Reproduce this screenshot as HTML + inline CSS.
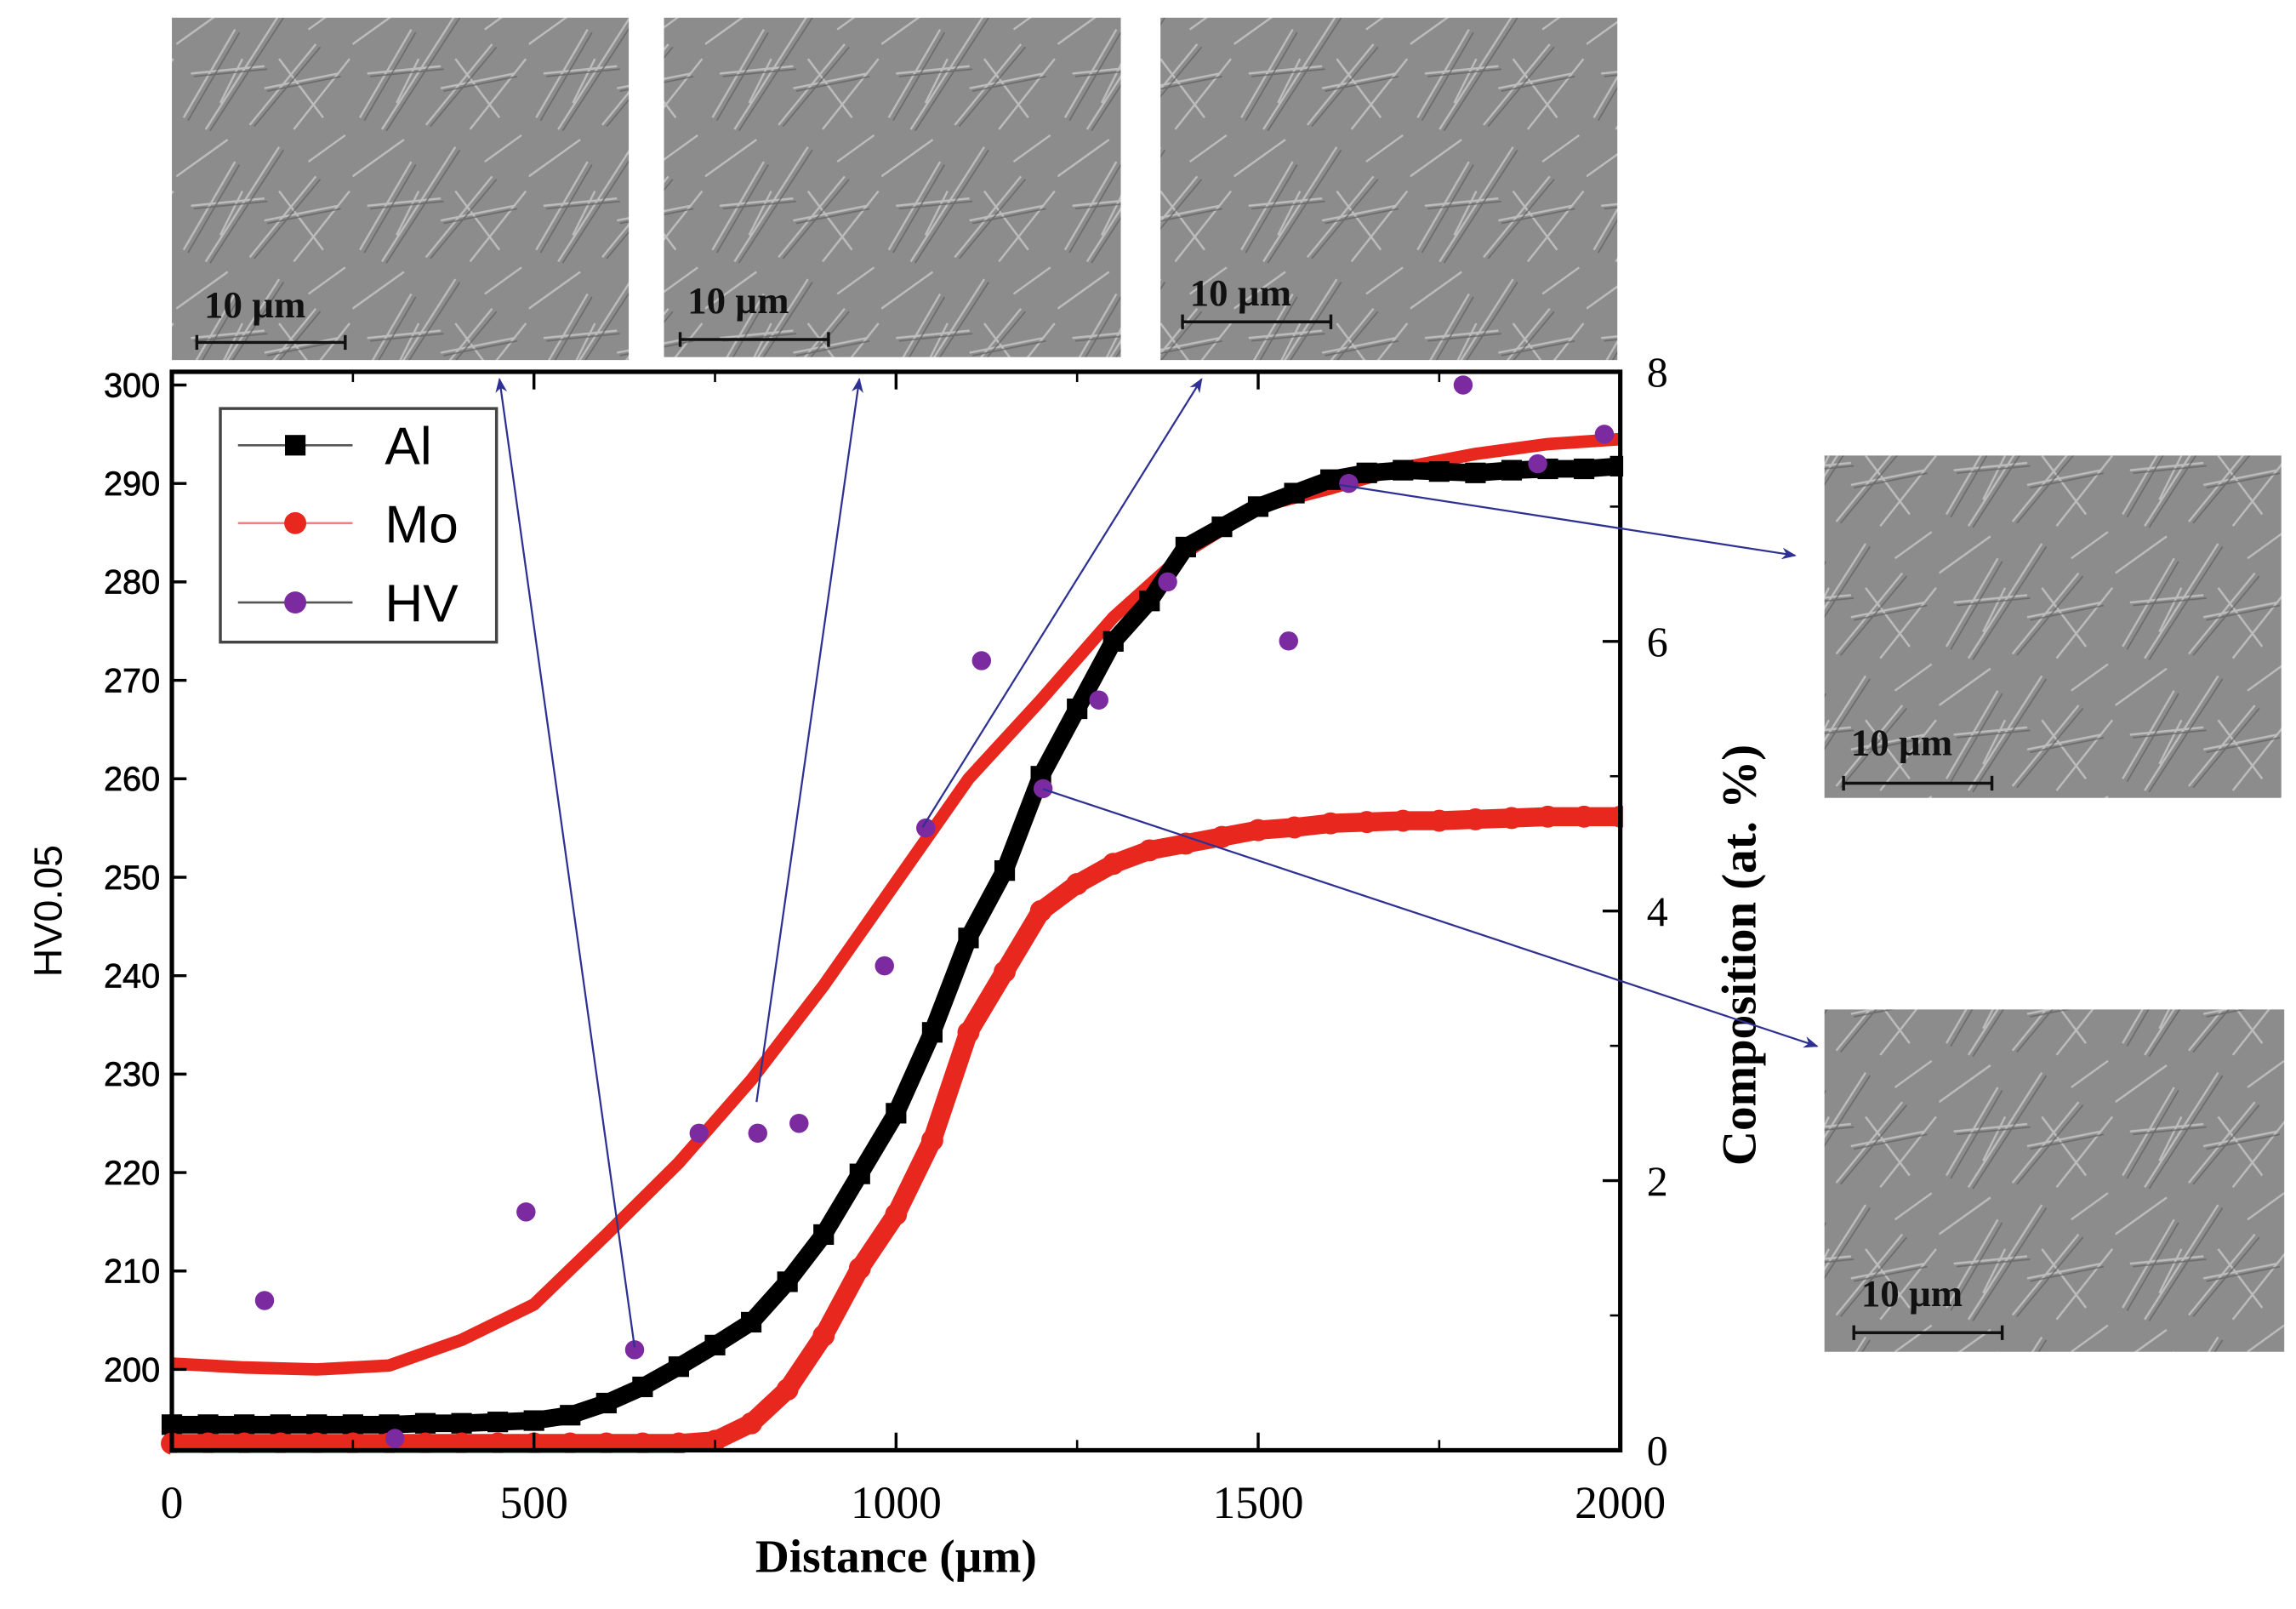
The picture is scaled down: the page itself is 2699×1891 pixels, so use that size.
<!DOCTYPE html>
<html><head><meta charset="utf-8"><style>
html,body{margin:0;padding:0;background:#fff;}
svg{display:block;}
</style></head><body>
<svg id="chart" xmlns="http://www.w3.org/2000/svg" width="2699" height="1891" viewBox="0 0 1563 1095">
<defs>
<pattern id="sem" width="120" height="90" patternUnits="userSpaceOnUse">
<rect width="120" height="90" fill="#8c8c8c"/>
<g stroke="#c9c9c9" stroke-width="1.4" fill="none" opacity="0.8">
<path d="M5 80 L40 20 M20 88 L70 10 M50 85 L95 30 M80 88 L118 40 M0 30 L35 5 M60 60 L110 50 M10 50 L60 45 M90 20 L115 2 M30 70 L45 40 M70 40 L100 80"/>
</g>
<g stroke="#5e5e5e" stroke-width="1" fill="none" opacity="0.7">
<path d="M8 82 L43 22 M23 89 L73 12 M53 86 L98 32 M62 62 L112 52 M12 52 L62 47"/>
</g>
</pattern>
<marker id="ah" markerWidth="10" markerHeight="8" refX="9" refY="4" orient="auto" markerUnits="userSpaceOnUse">
<path d="M0 0 L10 4 L0 8 L3 4 Z" fill="#2e3192"/>
</marker>
</defs>
<g id="images"></g>
<g id="plot"></g>
</svg>
<script>
// ---------- data ----------
const hvX = [128,308,489,639,728,809,866,984,1041,1118,1203,1280,1375,1542,1625,1783,1886,1978];
const hvY = [207,193,216,202,224,224,225,241,255,272,259,268,280,274,290,300,292,295];
const fitX = [0,100,200,300,400,500,600,700,800,900,1000,1100,1200,1300,1400,1500,1600,1700,1800,1900,2000];
const fitY = [200.6,200.2,200,200.4,203,206.6,213.7,221,229.4,239,249.5,260,268,276.4,283,287.6,289.5,291.6,293,294,294.5];
const compX = [0,50,100,150,200,250,300,350,400,450,500,550,600,650,700,750,800,850,900,950,1000,1050,1100,1150,1200,1250,1300,1350,1400,1450,1500,1550,1600,1650,1700,1750,1800,1850,1900,1950,2000];
const alY = [0.19,0.19,0.19,0.19,0.19,0.19,0.19,0.2,0.2,0.21,0.22,0.26,0.35,0.47,0.62,0.78,0.95,1.25,1.6,2.05,2.5,3.1,3.8,4.3,5.0,5.5,6.0,6.3,6.7,6.85,7.0,7.1,7.2,7.25,7.27,7.26,7.25,7.27,7.28,7.28,7.3];
const moY = [0.05,0.05,0.05,0.05,0.05,0.05,0.05,0.05,0.05,0.05,0.05,0.05,0.05,0.05,0.05,0.07,0.2,0.45,0.85,1.35,1.75,2.3,3.1,3.55,4.0,4.2,4.35,4.45,4.5,4.55,4.6,4.62,4.65,4.66,4.67,4.67,4.68,4.69,4.7,4.7,4.7];
const xTicks = [0,500,1000,1500,2000];
const hvTicks = [200,210,220,230,240,250,260,270,280,290,300];
const compTicks = [0,2,4,6,8];

// ---------- axes ----------
const L=117,R=1103,T=253,B=987;
const X = d => L + d*(R-L)/2000;
const YH = v => 932 - (v-200)*6.7;
const YC = c => B - c*(B-T)/8;
const NS="http://www.w3.org/2000/svg";
function mk(tag, attrs, parent){const e=document.createElementNS(NS,tag);for(const k in attrs)e.setAttribute(k,attrs[k]);parent.appendChild(e);return e;}
const plot=document.getElementById('plot');
const imgs=document.getElementById('images');

// SEM images
const semRects=[[117,12,311,233,134,233,209],[452,12,311,231,463,231,206],[790,12,311,233,805,219,201],[1242,310,311,233,1255,533,507],[1242,687,313,233,1262,907,882]];
semRects.forEach((r,i)=>{
  const g=mk('g',{},imgs);
  
  
  mk('rect',{x:r[0],y:r[1],width:r[2],height:r[3],fill:'url(#sem)'},g);
  const sb=mk('line',{x1:r[4],y1:r[5],x2:r[4]+101,y2:r[5],stroke:'#111','stroke-width':2},g);
  
  
  mk('line',{x1:r[4],y1:r[5]-5,x2:r[4],y2:r[5]+5,stroke:'#111','stroke-width':2},g);
  mk('line',{x1:r[4]+101,y1:r[5]-5,x2:r[4]+101,y2:r[5]+5,stroke:'#111','stroke-width':2},g);
  const t=mk('text',{x:r[4]+5,y:r[6]+7,'font-family':'Liberation Serif, serif','font-weight':'bold','font-size':26,fill:'#111'},g);
  t.textContent='10 µm';
  
  
});

// fit curve
let d='';
fitX.forEach((x,i)=>{d+=(i?'L':'M')+X(x)+' '+YH(fitY[i]);});
const fit=mk('path',{d:d,fill:'none',stroke:'#e8281e','stroke-width':8.5,'stroke-linejoin':'round'},plot);



// Al series
let da='';compX.forEach((x,i)=>{da+=(i?'L':'M')+X(x)+' '+YC(alY[i]);});
const alLine=mk('path',{d:da,fill:'none',stroke:'#000','stroke-width':12},plot);


compX.forEach((x,i)=>{
  const s=mk('rect',{x:X(x)-7,y:YC(alY[i])-7,width:14,height:14,fill:'#000'},plot);
  
  
});
// Mo series
let dm='';compX.forEach((x,i)=>{dm+=(i?'L':'M')+X(x)+' '+YC(moY[i]);});
const moLine=mk('path',{d:dm,fill:'none',stroke:'#e8281e','stroke-width':13},plot);


compX.forEach((x,i)=>{
  const c=mk('circle',{cx:X(x),cy:YC(moY[i]),r:7.5,fill:'#e8281e'},plot);
  
  
});
// HV points
hvX.forEach((x,i)=>{
  const c=mk('circle',{cx:X(x),cy:YH(hvY[i]),r:6.5,fill:'#7b2aa0'},plot);
  
  
});

mk('rect',{x:L-1,y:B+2,width:R-L+2,height:10,fill:'#fff'},plot);
mk('rect',{x:R+2,y:T,width:12,height:B-T,fill:'#fff'},plot);

// axes frame
const frame=mk('rect',{x:L,y:T,width:R-L,height:B-T,fill:'none',stroke:'#000','stroke-width':3},plot);



// x ticks
xTicks.forEach(v=>{
  mk('line',{x1:X(v),y1:B,x2:X(v),y2:B-12,stroke:'#000','stroke-width':2},plot);
  mk('line',{x1:X(v),y1:T,x2:X(v),y2:T+12,stroke:'#000','stroke-width':2},plot);
  const t=mk('text',{x:X(v),y:1033,'text-anchor':'middle','font-family':'Liberation Serif, serif','font-size':31,fill:'#000'},plot);
  t.textContent=v;
  
  
});
[250,750,1250,1750].forEach(v=>{
  mk('line',{x1:X(v),y1:B,x2:X(v),y2:B-7,stroke:'#000','stroke-width':1.5},plot);
  mk('line',{x1:X(v),y1:T,x2:X(v),y2:T+7,stroke:'#000','stroke-width':1.5},plot);
});
// left ticks
hvTicks.forEach(v=>{
  mk('line',{x1:L,y1:YH(v),x2:L+10,y2:YH(v),stroke:'#000','stroke-width':2},plot);
  const t=mk('text',{x:L-8,y:YH(v)+8,'text-anchor':'end','font-family':'Liberation Sans, sans-serif','font-size':23,fill:'#000','stroke':'#000','stroke-width':0.4},plot);
  t.textContent=v;
  
  
});
// right ticks
compTicks.forEach(v=>{
  mk('line',{x1:R,y1:YC(v),x2:R-12,y2:YC(v),stroke:'#000','stroke-width':2},plot);
  const t=mk('text',{x:R+18,y:YC(v)+10,'font-family':'Liberation Serif, serif','font-size':29,fill:'#000'},plot);
  t.textContent=v;
  
  
});
[1,3,5,7].forEach(v=>{mk('line',{x1:R,y1:YC(v),x2:R-7,y2:YC(v),stroke:'#000','stroke-width':1.5},plot);});

// axis titles
const xt=mk('text',{x:610,y:1070,'text-anchor':'middle','font-family':'Liberation Serif, serif','font-weight':'bold','font-size':32,fill:'#000'},plot);
xt.textContent='Distance (µm)';


const yl=mk('text',{x:0,y:0,transform:'translate(42,620) rotate(-90)','text-anchor':'middle','font-family':'Liberation Sans, sans-serif','font-size':27,fill:'#000'},plot);
yl.textContent='HV0.05';


const yr=mk('text',{x:0,y:0,transform:'translate(1195,650) rotate(-90)','text-anchor':'middle','font-family':'Liberation Serif, serif','font-weight':'bold','font-size':33,fill:'#000'},plot);
yr.textContent='Composition (at. %)';



// legend
const lg=mk('g',{},plot);


mk('rect',{x:150,y:278,width:188,height:159,fill:'#fff',stroke:'#444','stroke-width':2},lg);
[['Al','#000','sq',303],['Mo','#e8281e','c',356],['HV','#7b2aa0','c',410]].forEach(e=>{
  const g=mk('g',{},lg);
  
  
  mk('line',{x1:162,y1:e[3],x2:240,y2:e[3],stroke:e[0]==='Mo'?'#f08080':'#555','stroke-width':1.5},g);
  if(e[2]==='sq')mk('rect',{x:194,y:e[3]-7,width:14,height:14,fill:e[1]},g);
  else mk('circle',{cx:201,cy:e[3],r:7.5,fill:e[1]},g);
  const t=mk('text',{x:262,y:e[3]+13,'font-family':'Liberation Sans, sans-serif','font-size':36,fill:'#000'},g);
  t.textContent=e[0];
});

// arrows
const arrows=[[432,917,340,258],[515,750,585,258],[628,563,818,258],[912,330,1222,378],[710,537,1237,712]];
arrows.forEach(a=>{
  const l=mk('line',{x1:a[0],y1:a[1],x2:a[2],y2:a[3],stroke:'#2e3192','stroke-width':1.3,'marker-end':'url(#ah)'},plot);
  
  
});
</script>
</body></html>
